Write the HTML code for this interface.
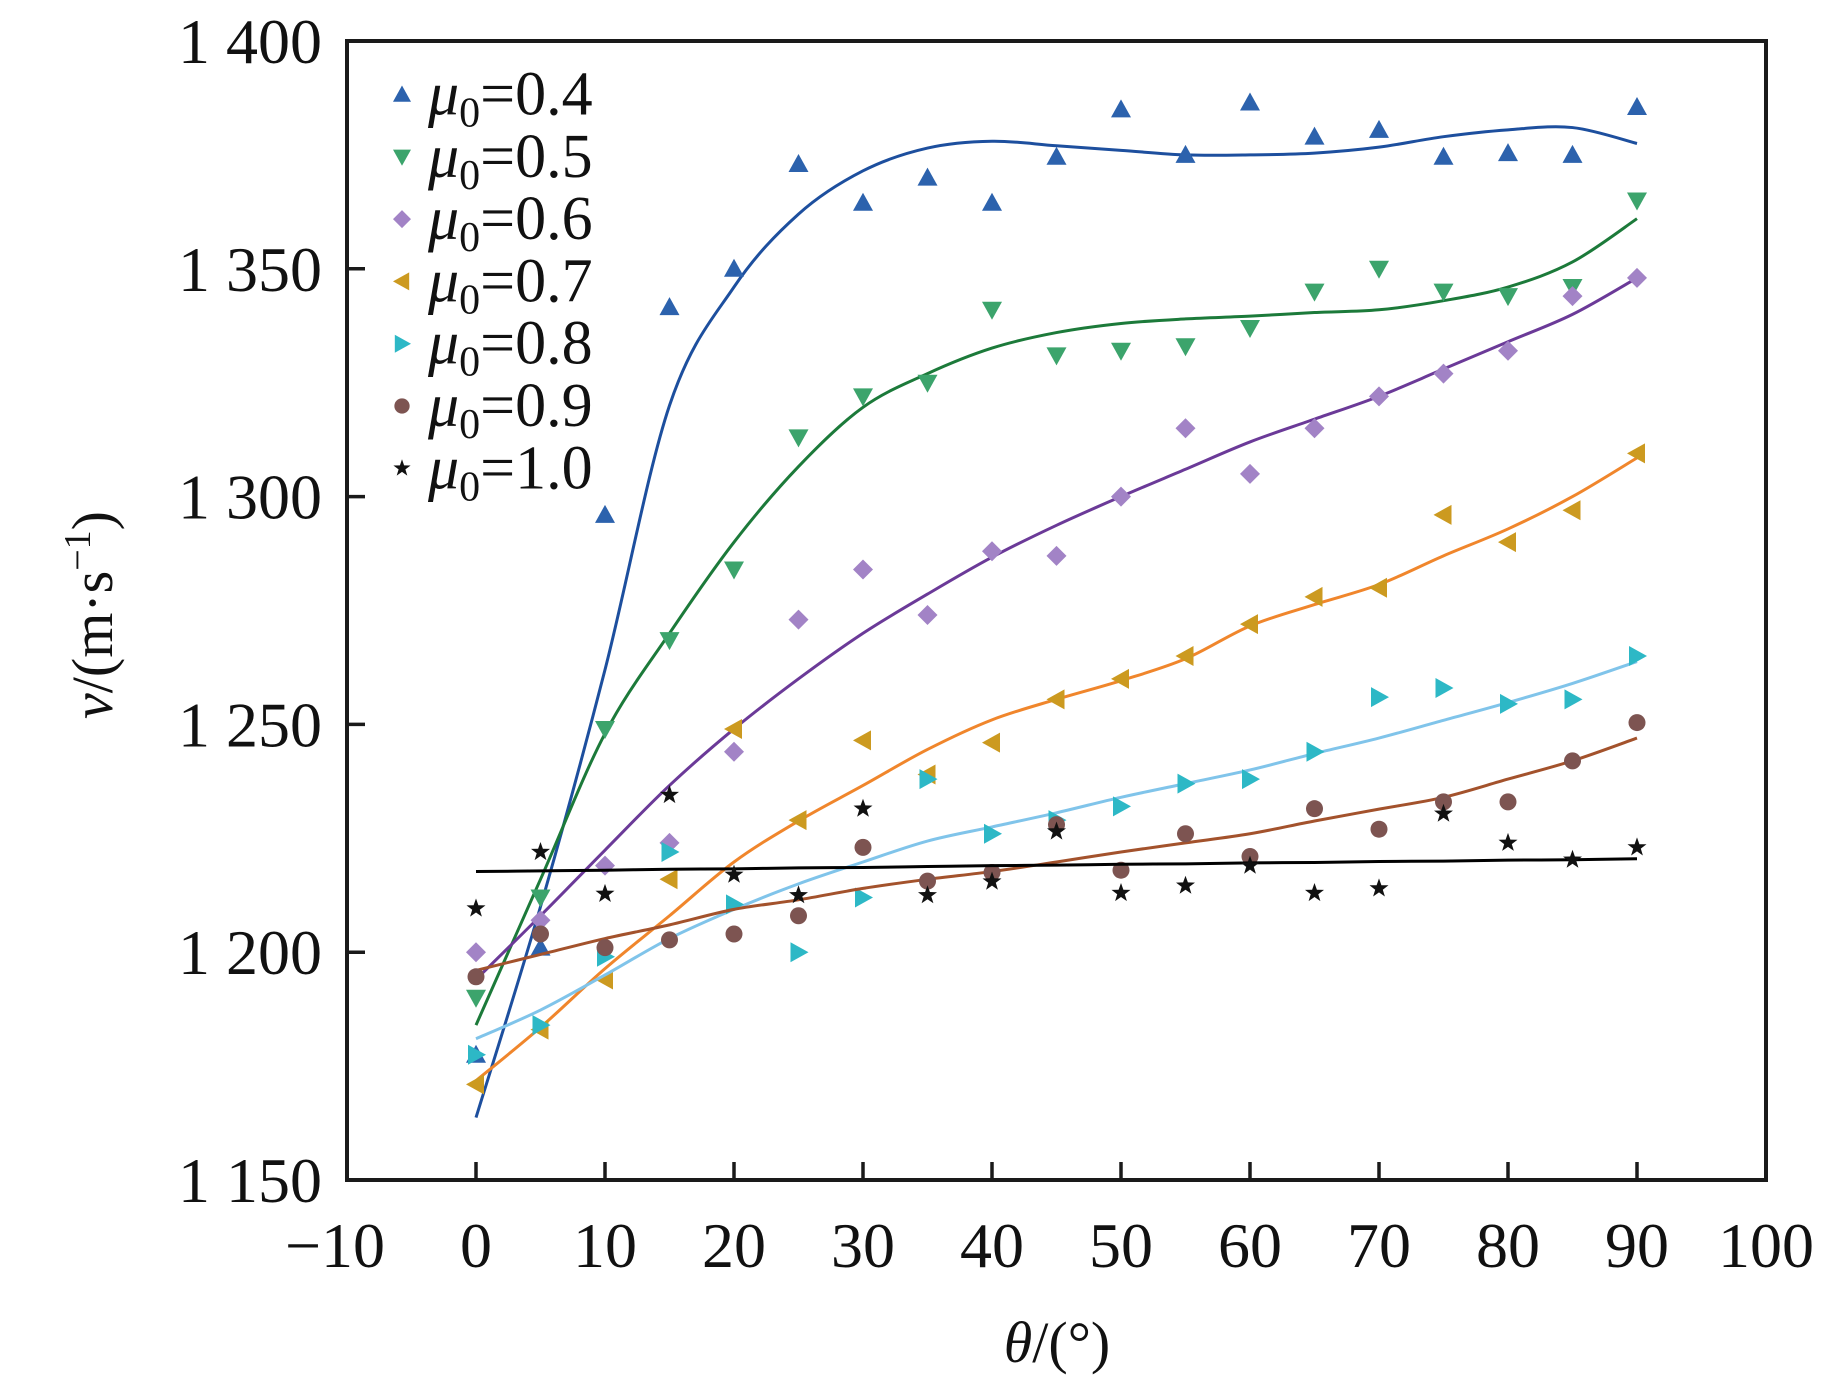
<!DOCTYPE html>
<html><head><meta charset="utf-8"><style>
html,body{margin:0;padding:0;background:#fff;}
svg{display:block;font-family:"Liberation Serif","Times New Roman",serif;}
</style></head><body>
<svg id="chart" width="1843" height="1382" viewBox="0 0 1843 1382" xmlns="http://www.w3.org/2000/svg">
<g id="marks"></g>
<g id="axes"></g>
</svg>
<script>
const thetas=[0,5,10,15,20,25,30,35,40,45,50,55,60,65,70,75,80,85,90];
const seriesLabels=["0.4","0.5","0.6","0.7","0.8","0.9","1.0"];
const pts04=[1177.5,1201,1296,1341.6,1350,1373,1364.5,1370,1364.5,1374.6,1385,1375,1386.5,1379,1380.5,1374.6,1375.4,1375,1385.5];
const pts05=[1190,1212,1249,1268.5,1284,1313,1322,1325,1341,1331,1332,1333,1337,1345,1350,1345,1344,1346,1365];
const pts06=[1200,1207,1219,1224,1244,1273,1284,1274,1288,1287,1300,1315,1305,1315,1322,1327,1332,1344,1348];
const pts07=[1171,1183,1194,1216,1249,1229,1246.5,1239,1246,1255.5,1260,1265,1272,1278,1280,1296,1290,1297,1309.5];
const pts08=[1177.5,1184,1199,1222,1210.5,1200,1212,1238,1226,1229,1232,1237,1238,1244,1256,1258,1254.5,1255.5,1265];
const pts09=[1194.6,1204,1201,1202.7,1204,1208,1223,1215.6,1217.5,1228,1218,1226,1221,1231.5,1227,1233,1233,1242,1250.4];
const pts10=[1209.6,1222,1212.8,1234.5,1217,1212.5,1231.5,1212.5,1215.5,1226.5,1213,1214.6,1219,1213,1214,1230.4,1224,1220.3,1223];
const fit04=[1163.7,1210,1262,1320,1346,1362,1371.5,1376.5,1378,1377,1376,1375,1375,1375.4,1376.7,1379,1380.5,1381,1377.5];
const fit05=[1184,1216,1248,1270,1290,1306.6,1319.6,1327,1332.6,1336,1338,1339,1339.6,1340.4,1341,1343,1346,1351.5,1361];
const fit06=[1194,1208,1222.4,1236.6,1249,1260,1270,1278.6,1286.7,1293.7,1300,1306,1312,1317,1322,1328,1334,1340,1348];
const fit07=[1171.8,1183.5,1196.4,1208,1219.8,1228.8,1236.6,1244.5,1251,1255.5,1259.6,1264.4,1271.6,1276.3,1280.7,1287,1292.9,1300,1308.5];
const fit08=[1181,1187.3,1195,1203,1209.4,1215,1219.8,1224.4,1227.5,1230.6,1234,1237,1240,1243.6,1247,1250.9,1254.8,1259,1263.8];
const fit09=[1196,1199.5,1203,1206,1209.4,1211.5,1214,1216,1217.7,1219.8,1222,1224,1226,1228.8,1231.4,1234,1238,1242,1247];
const fit10=[1217.7,1217.85,1218,1218.2,1218.3,1218.5,1218.6,1218.8,1219,1219.1,1219.3,1219.4,1219.6,1219.7,1219.9,1220,1220.2,1220.3,1220.5];
const xTicks=[-10,0,10,20,30,40,50,60,70,80,90,100];
const yTicks=[1150,1200,1250,1300,1350,1400];

const L=347,R=1766,T=41,B=1180;
function xs(v){return L+(v+10)/110*(R-L);}
function ys(v){return B-(v-1150)/250*(B-T);}
const NS="http://www.w3.org/2000/svg";
function mk(tag,attrs,parent){const e=document.createElementNS(NS,tag);for(const k in attrs)e.setAttribute(k,attrs[k]);parent.appendChild(e);return e;}
const marks=document.getElementById('marks'),axes=document.getElementById('axes');

const series=[
 {pts:pts04,fit:fit04,mc:"#2c62ad",lc:"#1d4f9e",shape:"up"},
 {pts:pts05,fit:fit05,mc:"#3ca46c",lc:"#1c7a3a",shape:"down"},
 {pts:pts06,fit:fit06,mc:"#a283c6",lc:"#6b3a98",shape:"diamond"},
 {pts:pts07,fit:fit07,mc:"#cc9a20",lc:"#f0862c",shape:"left"},
 {pts:pts08,fit:fit08,mc:"#2db8c6",lc:"#80c4ea",shape:"right"},
 {pts:pts09,fit:fit09,mc:"#7d5451",lc:"#a3522c",shape:"circle"},
 {pts:pts10,fit:fit10,mc:"#111",lc:"#000",shape:"star"}
];
function shape(s,x,y,c,parent,sz){
 sz=sz||10;let d;
 if(s==="up")d=`M${x},${y-sz} L${x+sz},${y+sz*0.8} L${x-sz},${y+sz*0.8}Z`;
 else if(s==="down")d=`M${x},${y+sz} L${x+sz},${y-sz*0.8} L${x-sz},${y-sz*0.8}Z`;
 else if(s==="left")d=`M${x-sz},${y} L${x+sz*0.8},${y-sz} L${x+sz*0.8},${y+sz}Z`;
 else if(s==="right")d=`M${x+sz},${y} L${x-sz*0.8},${y-sz} L${x-sz*0.8},${y+sz}Z`;
 else if(s==="diamond")d=`M${x},${y-sz} L${x+sz},${y} L${x},${y+sz} L${x-sz},${y}Z`;
 else if(s==="circle"){return mk('circle',{cx:x,cy:y,r:sz*0.85,fill:c},parent);}
 else{let p=[];for(let i=0;i<10;i++){const r=i%2?sz*0.4:sz;const a=-Math.PI/2+i*Math.PI/5;p.push((x+r*Math.cos(a)).toFixed(1)+","+(y+r*Math.sin(a)).toFixed(1));}d="M"+p.join(" L")+"Z";}
 return mk('path',{d:d,fill:c},parent);
}
function smooth(P){let d=`M${P[0][0]},${P[0][1]}`;for(let i=0;i<P.length-1;i++){const p0=P[Math.max(0,i-1)],p1=P[i],p2=P[i+1],p3=P[Math.min(P.length-1,i+2)];
 d+=` C${p1[0]+(p2[0]-p0[0])/6},${p1[1]+(p2[1]-p0[1])/6} ${p2[0]-(p3[0]-p1[0])/6},${p2[1]-(p3[1]-p1[1])/6} ${p2[0]},${p2[1]}`;}return d;}
series.forEach((s,si)=>{
 const g=mk('g',{},marks);
 
 
 const P=thetas.map((t,i)=>[xs(t),ys(s.fit[i])]);
 const path=mk('path',{d:smooth(P),fill:'none',stroke:s.lc,'stroke-width':3},g);
 
 
 thetas.forEach((t,i)=>{
  const e=shape(s.shape,xs(t),ys(s.pts[i]),s.mc,g);
  
  
 });
 const ly=94.5+si*62.3;
 const lm=shape(s.shape,402,ly,s.mc,axes,9);
 
 
 const tx=mk('text',{x:428,y:ly+20,'font-size':62,fill:'#111'},axes);
 
 
 tx.innerHTML=`<tspan font-style="italic">μ</tspan><tspan font-size="42" dy="12">0</tspan><tspan dy="-12">=${seriesLabels[si]}</tspan>`;
});
const fr=mk('rect',{x:L,y:T,width:R-L,height:B-T,fill:'none',stroke:'#1a1a1a','stroke-width':4},axes);


xTicks.forEach(v=>{
 if(v>-10&&v<100){const l=mk('line',{x1:xs(v),x2:xs(v),y1:B,y2:B-18,stroke:'#1a1a1a','stroke-width':3.5},axes);
 }
 const t=mk('text',{x:xs(v)-(v<0?12:0),y:1267,'font-size':64,'text-anchor':'middle',fill:'#111'},axes);
 t.textContent=v<0?"\u2212"+(-v):String(v);
 
});
yTicks.forEach(v=>{
 if(v>1150&&v<1400){const l=mk('line',{x1:L,x2:L+18,y1:ys(v),y2:ys(v),stroke:'#1a1a1a','stroke-width':3.5},axes);
 }
 const s=String(v);
 const t=mk('text',{x:322,y:ys(v)+22,'font-size':64,'text-anchor':'end',fill:'#111'},axes);
 t.textContent=s[0]+" "+s.slice(1);
 
});
const yt=mk('text',{x:0,y:0,'font-size':58,'text-anchor':'middle',fill:'#111',transform:'translate(112,615) rotate(-90)'},axes);
yt.innerHTML='<tspan font-style="italic">v</tspan>/(m·s<tspan font-size="38" dy="-22">−1</tspan><tspan dy="22">)</tspan>';

const xt=mk('text',{x:1057,y:1362,'font-size':58,'text-anchor':'middle',fill:'#111'},axes);
xt.innerHTML='<tspan font-style="italic">θ</tspan>/(°)';

</script>
</body></html>
